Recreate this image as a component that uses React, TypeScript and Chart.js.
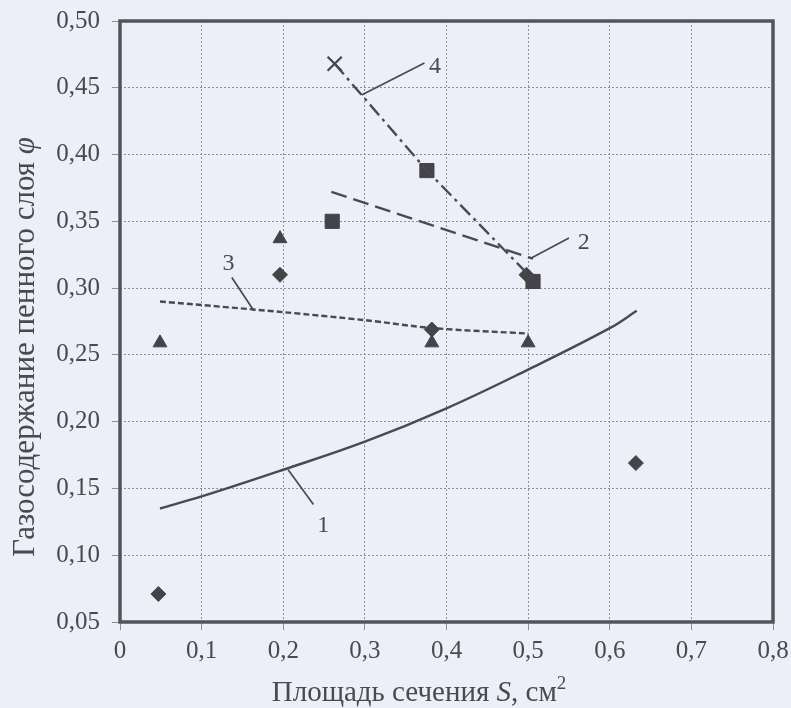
import { useEffect, useRef } from "react";
import { Chart, registerables } from "chart.js";

Chart.register(...registerables);

// ---- data ----
const curve1X = [0.049, 0.1, 0.2, 0.3, 0.4, 0.5, 0.6, 0.633];
const curve1Y = [0.135, 0.144, 0.164, 0.185, 0.21, 0.239, 0.27, 0.283];
const curve2X = [0.259, 0.506];
const curve2Y = [0.372, 0.322];
const curve3X = [0.049, 0.2, 0.3, 0.384, 0.5];
const curve3Y = [0.29, 0.282, 0.276, 0.27, 0.266];
const curve4X = [0.263, 0.376, 0.51];
const curve4Y = [0.468, 0.388, 0.304];

const diamondX = [0.047, 0.196, 0.382, 0.498, 0.632];
const diamondY = [0.071, 0.31, 0.269, 0.31, 0.169];
const triangleX = [0.049, 0.196, 0.382, 0.5];
const triangleY = [0.259, 0.337, 0.259, 0.259];
const squareX = [0.26, 0.376, 0.506];
const squareY = [0.35, 0.388, 0.305];
const crossX = [0.263];
const crossY = [0.468];

const curveLabels = ["1", "2", "3", "4"];
const labelX = [0.249, 0.568, 0.133, 0.386];
const labelY = [0.122, 0.334, 0.318, 0.466];
const leaderX1 = [0.206, 0.504, 0.137, 0.296];
const leaderY1 = [0.164, 0.3226, 0.308, 0.4446];
const leaderX2 = [0.237, 0.55, 0.164, 0.373];
const leaderY2 = [0.138, 0.3376, 0.283, 0.4686];

const xMin = 0, xMax = 0.8, xStep = 0.1;
const yMin = 0.05, yMax = 0.5, yStep = 0.05;

const xTitleParts = ["Площадь сечения ", "S", ", см", "2"];
const yTitleParts = ["Газосодержание пенного слоя ", "φ"];

const INK = "#4a4a4e";
const FONT = "'Liberation Serif', 'DejaVu Serif', serif";

const pts = (xs: number[], ys: number[]) => xs.map((x, i) => ({ x, y: ys[i] }));

export default function App() {
  const ref = useRef<HTMLCanvasElement | null>(null);

  useEffect(() => {
    if (!ref.current) return;

    const overlay = {
      id: "overlay",
      afterDatasetsDraw(chart: any) {
        const { ctx, chartArea, scales } = chart;
        const xs = scales.x, ys = scales.y;
        ctx.save();
        // frame
        ctx.strokeStyle = "#545458";
        ctx.lineWidth = 3.5;
        ctx.setLineDash([]);
        ctx.strokeRect(chartArea.left, chartArea.top, chartArea.right - chartArea.left, chartArea.bottom - chartArea.top);
        // leaders
        ctx.strokeStyle = INK;
        ctx.lineWidth = 1.7;
        for (let i = 0; i < curveLabels.length; i++) {
          ctx.beginPath();
          ctx.moveTo(xs.getPixelForValue(leaderX1[i]), ys.getPixelForValue(leaderY1[i]));
          ctx.lineTo(xs.getPixelForValue(leaderX2[i]), ys.getPixelForValue(leaderY2[i]));
          ctx.stroke();
        }
        ctx.fillStyle = INK;
        ctx.font = `24px ${FONT}`;
        ctx.textAlign = "center";
        ctx.textBaseline = "middle";
        for (let i = 0; i < curveLabels.length; i++) {
          ctx.fillText(curveLabels[i], xs.getPixelForValue(labelX[i]), ys.getPixelForValue(labelY[i]));
        }
        // x title
        ctx.textBaseline = "alphabetic";
        ctx.textAlign = "left";
        const reg = `29px ${FONT}`;
        const ita = `italic 29px ${FONT}`;
        const sup = `19px ${FONT}`;
        const xFonts = [reg, ita, reg, sup];
        let total = 0;
        const widths = xTitleParts.map((t, i) => {
          ctx.font = xFonts[i];
          const w = ctx.measureText(t).width;
          total += w;
          return w;
        });
        let cx = 419 - total / 2;
        const base = 701;
        xTitleParts.forEach((t, i) => {
          ctx.font = xFonts[i];
          ctx.fillText(t, cx, i === 3 ? base - 12 : base);
          cx += widths[i];
        });
        // y title
        ctx.translate(34, 347);
        ctx.rotate(-Math.PI / 2);
        const yFonts = [`31px ${FONT}`, `italic 31px ${FONT}`];
        let ytotal = 0;
        const yw = yTitleParts.map((t, i) => {
          ctx.font = yFonts[i];
          const w = ctx.measureText(t).width;
          ytotal += w;
          return w;
        });
        let cy = -ytotal / 2;
        yTitleParts.forEach((t, i) => {
          ctx.font = yFonts[i];
          ctx.fillText(t, cy, 0);
          cy += yw[i];
        });
        ctx.restore();
      },
    };

    const lineDs = (xs: number[], ys: number[], dash: number[], tension: number) => ({
      type: "line" as const,
      data: pts(xs, ys),
      borderColor: INK,
      borderWidth: 2.4,
      borderDash: dash,
      pointRadius: 0,
      tension,
      fill: false,
    });
    const markDs = (xs: number[], ys: number[], style: any, r: number) => ({
      type: "scatter" as const,
      data: pts(xs, ys),
      pointStyle: style,
      pointRadius: r,
      backgroundColor: "#444448",
      borderColor: "#444448",
      borderWidth: style === "crossRot" ? 2.2 : 1,
      showLine: false,
    });

    const chart = new Chart(ref.current, {
      type: "scatter",
      data: {
        datasets: [
          lineDs(curve1X, curve1Y, [], 0.4),
          lineDs(curve2X, curve2Y, [16, 7], 0),
          lineDs(curve3X, curve3Y, [6, 3], 0.3),
          lineDs(curve4X, curve4Y, [14, 5, 3, 5], 0),
          markDs(diamondX, diamondY, "rectRot", 7.5),
          markDs(triangleX, triangleY, "triangle", 8),
          markDs(squareX, squareY, "rect", 10),
          markDs(crossX, crossY, "crossRot", 10),
        ] as any,
      },
      options: {
        responsive: false,
        animation: false,
        events: [],
        layout: { padding: { top: 21, right: 18, left: 0, bottom: 0 } },
        plugins: { legend: { display: false }, tooltip: { enabled: false }, title: { display: false } },
        scales: {
          x: {
            type: "linear",
            min: xMin,
            max: xMax,
            afterFit(scale: any) {
              scale.height = 86;
              scale.paddingLeft = 0;
              scale.paddingRight = 0;
            },
            afterBuildTicks(scale: any) {
              const t = [];
              for (let v = xMin; v <= xMax + 1e-9; v += xStep) t.push({ value: Math.round(v * 10) / 10 });
              scale.ticks = t;
            },
            ticks: {
              color: INK,
              font: { family: FONT, size: 25 },
              padding: 6,
              maxRotation: 0,
              autoSkip: false,
              callback: (v: any) => (Number(v) === 0 ? "0" : Number(v).toFixed(1).replace(".", ",")),
            },
            grid: { color: "#8e8e9a", lineWidth: 1, tickLength: 8, tickColor: "#8e8e9a" },
            border: { display: false, dash: [2, 2] },
          },
          y: {
            type: "linear",
            min: yMin,
            max: yMax,
            afterFit(scale: any) {
              scale.width = 120;
              scale.paddingTop = 0;
              scale.paddingBottom = 0;
            },
            afterBuildTicks(scale: any) {
              const t = [];
              for (let v = yMin; v <= yMax + 1e-9; v += yStep) t.push({ value: Math.round(v * 100) / 100 });
              scale.ticks = t;
            },
            ticks: {
              color: INK,
              font: { family: FONT, size: 25 },
              padding: 12,
              autoSkip: false,
              callback: (v: any) => Number(v).toFixed(2).replace(".", ","),
            },
            grid: { color: "#8e8e9a", lineWidth: 1, tickLength: 8, tickColor: "#8e8e9a" },
            border: { display: false, dash: [2, 2] },
          },
        },
      },
      plugins: [overlay],
    });
    return () => chart.destroy();
  }, []);

  return (
    <div style={{ position: "fixed", left: 0, top: 0, width: 791, height: 708, background: "#eceef8" }}>
      <canvas ref={ref} width={791} height={708} style={{ display: "block" }} />
    </div>
  );
}
